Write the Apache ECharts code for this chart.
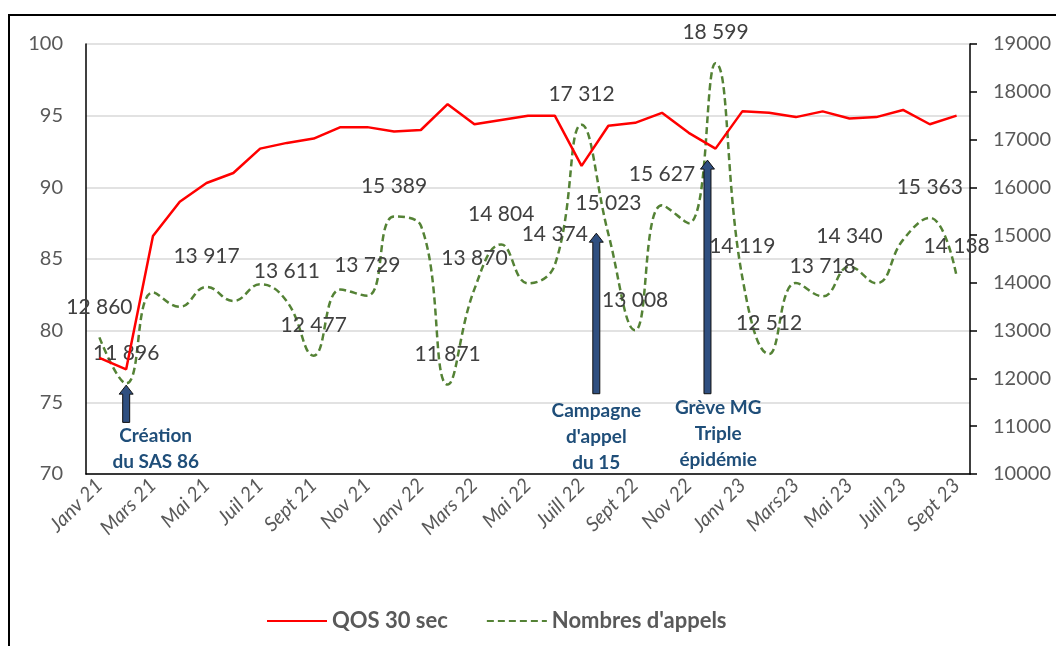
<!DOCTYPE html>
<html>
<head>
<meta charset="utf-8">
<script src="https://cdn.jsdelivr.net/npm/echarts@6/dist/echarts.min.js"></script>
<style>
html, body { margin: 0; padding: 0; background: #fff; }
#chart { width: 1056px; height: 646px; }
</style>
</head>
<body>
<div id="chart"></div>
<script>
// mois de janv 21 a sept 23
var mois = ['Janv 21', 'Févr 21', 'Mars 21', 'Avr 21', 'Mai 21', 'Juin 21', 'Juil 21', 'Août 21',
	'Sept 21', 'Oct 21', 'Nov 21', 'Déc 21', 'Janv 22', 'Févr 22', 'Mars 22', 'Avr 22', 'Mai 22',
	'Juin 22', 'Juill 22', 'Août 22', 'Sept 22', 'Oct 22', 'Nov 22', 'Déc 22', 'Janv 23', 'Févr 23',
	'Mars23', 'Avr 23', 'Mai 23', 'Juin 23', 'Juill 23', 'Août 23', 'Sept 23'];

var qos = [78.1, 77.3, 86.6, 89.0, 90.3, 91.0, 92.7, 93.1, 93.4, 94.2, 94.2, 93.9, 94.0, 95.8, 94.4,
	94.7, 95.0, 95.0, 91.5, 94.3, 94.5, 95.2, 93.8, 92.7, 95.3, 95.2, 94.9, 95.3, 94.8, 94.9, 95.4,
	94.4, 95.0];

var appels = [12860, 11896, 13800, 13500, 13917, 13620, 13970, 13611, 12477, 13860, 13729, 15389,
	15200, 11871, 13870, 14804, 13990, 14374, 17312, 15023, 13008, 15627, 15250, 18599, 14119,
	12512, 14000, 13718, 14340, 13990, 14900, 15363, 14138];

// points du nombre d'appels qui ont une etiquette
var appelsEtiquetes = [0, 1, 4, 7, 8, 10, 11, 13, 14, 15, 17, 18, 19, 20, 21, 23, 24, 25, 27, 28, 31, 32];

// evenements : position sur l'axe des mois, fleche en valeurs de QOS
var evenements = [
	{ texte: 'Création\ndu SAS 86', mois: 1, texteMois: 2.1, haut: 76.2, bas: 73.6, texteHaut: 73.6 },
	{ texte: "Campagne\nd'appel\ndu 15", mois: 18.55, texteMois: 18.55, haut: 86.8, bas: 75.6, texteHaut: 75.3 },
	{ texte: 'Grève MG\nTriple\népidémie', mois: 22.7, texteMois: 23.1, haut: 91.9, bas: 75.6, texteHaut: 75.5 }
];

var gris = '#595959';
var police = 'Lato, "Noto Sans", sans-serif';

function milliers(v) {
	return String(v).replace(/\B(?=(\d{3})+(?!\d))/g, ' ');
}

var option = {
	backgroundColor: '#fff',
	animation: false,
	grid: {
		left: 86,
		right: 86,
		top: 44,
		bottom: 172
	},
	legend: {
		left: 261,
		top: 605,
		itemWidth: 60,
		itemHeight: 16,
		itemGap: 38,
		itemStyle: { opacity: 0 },
		textStyle: {
			fontFamily: police,
			fontSize: 22,
			fontWeight: 'bold',
			color: gris
		},
		data: ['QOS 30 sec', "Nombres d'appels"]
	},
	xAxis: [{
		type: 'category',
		data: mois,
		boundaryGap: true,
		axisLine: { lineStyle: { color: '#000', width: 1.5 } },
		axisTick: { show: false },
		axisLabel: {
			interval: 1,
			rotate: 45,
			margin: 8,
			fontFamily: police,
			fontStyle: 'italic',
			fontSize: 20,
			color: gris
		},
		splitLine: { show: false }
	}],
	yAxis: [{
		type: 'value',
		min: 70,
		max: 100,
		interval: 5,
		axisLine: { show: true, lineStyle: { color: '#000', width: 1.5 } },
		axisTick: { show: false },
		axisLabel: { margin: 23, fontFamily: police, fontSize: 20, color: gris },
		splitLine: { lineStyle: { color: '#d9d9d9', width: 1.5 } }
	}, {
		type: 'value',
		min: 10000,
		max: 19000,
		interval: 1000,
		axisLine: { show: true, lineStyle: { color: '#000', width: 1.5 } },
		axisTick: { show: true, length: 7, lineStyle: { color: '#000', width: 1.5 } },
		axisLabel: {
			margin: 23,
			fontFamily: police,
			fontSize: 20,
			color: gris,
			formatter: function(v) { return String(v); }
		},
		splitLine: { show: false }
	}],
	series: [{
		name: 'QOS 30 sec',
		type: 'line',
		yAxisIndex: 0,
		data: qos,
		symbol: 'none',
		z: 3,
		lineStyle: { color: '#ff0000', width: 2.5 },
		itemStyle: { color: '#ff0000' }
	}, {
		name: "Nombres d'appels",
		type: 'line',
		yAxisIndex: 1,
		data: appels,
		symbol: 'circle',
		symbolSize: 0.1,
		showSymbol: true,
		smooth: 0.45,
		z: 2,
		lineStyle: { color: '#548235', width: 2.5, type: [7, 4] },
		itemStyle: { color: '#548235' },
		label: {
			show: true,
			position: 'top',
			distance: 20,
			fontFamily: police,
			fontSize: 21,
			color: '#404040',
			formatter: function(p) {
				return appelsEtiquetes.indexOf(p.dataIndex) >= 0 ? milliers(p.value) : '';
			}
		},
		labelLayout: { hideOverlap: false }
	}]
};

var chart = echarts.init(document.getElementById('chart'));
chart.setOption(option);

// fleches et textes des evenements, places avec les axes du graphique
function px(m, v) {
	var a = chart.convertToPixel({ xAxisIndex: 0 }, Math.floor(m));
	var b = chart.convertToPixel({ xAxisIndex: 0 }, Math.floor(m) + 1);
	var x = a + (b - a) * (m - Math.floor(m));
	return [x, chart.convertToPixel({ yAxisIndex: 0 }, v)];
}

var graphics = [{
	type: 'rect',
	shape: { x: 9, y: 15, width: 1200, height: 800 },
	style: { fill: 'none', stroke: '#000', lineWidth: 2 },
	silent: true
}];

evenements.forEach(function(e) {
	var h = px(e.mois, e.haut);
	var b = px(e.mois, e.bas);
	var cx = h[0];
	graphics.push({
		type: 'polygon',
		shape: {
			points: [[cx - 3.5, b[1]], [cx - 3.5, h[1] + 9], [cx - 7, h[1] + 9], [cx, h[1]],
				[cx + 7, h[1] + 9], [cx + 3.5, h[1] + 9], [cx + 3.5, b[1]]]
		},
		style: { fill: '#2f4f80', stroke: '#111', lineWidth: 1 },
		z: 10
	});
	var t = px(e.texteMois, e.texteHaut);
	graphics.push({
		type: 'text',
		style: {
			text: e.texte,
			x: t[0],
			y: t[1],
			align: 'center',
			verticalAlign: 'top',
			textAlign: 'center',
			textVerticalAlign: 'top',
			fontFamily: police,
			fontSize: 19,
			fontWeight: 'bold',
			lineHeight: 26,
			fill: '#1f4e79'
		},
		z: 10
	});
});

chart.setOption({ graphic: graphics });
</script>
</body>
</html>
